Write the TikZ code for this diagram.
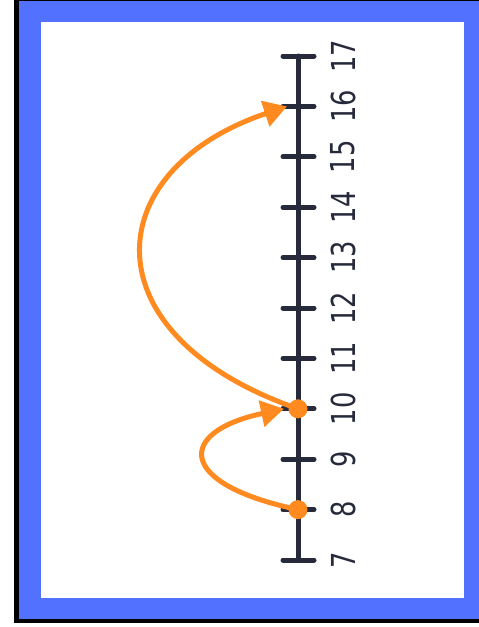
\documentclass[tikz,border=0pt]{standalone}
\usepackage{fontspec}
\setmainfont{DejaVu Sans}
\usetikzlibrary{arrows.meta}
\definecolor{frameblue}{HTML}{5271FF}
\definecolor{axisnavy}{HTML}{262A3B}
\definecolor{arcorange}{HTML}{FF8A1F}
\begin{document}
\begin{tikzpicture}[x=1pt,y=-1pt,
  axisline/.style={draw=axisnavy,line width=5pt,line cap=round},
  tickline/.style={draw=axisnavy,line width=5pt,line cap=round},
  numlabel/.style={text=axisnavy,font=\fontsize{33}{33}\selectfont,rotate=90,inner sep=0pt},
  orangearc/.style={draw=arcorange,line width=5pt,-{Triangle[length=23pt,width=26pt]}},
  dotnode/.style={circle,fill=arcorange,minimum size=19pt,inner sep=0pt}]
\useasboundingbox (0,0) rectangle (479,627);
\fill[white] (0,0) rectangle (479,627);
\fill[black] (14,0) rectangle (485,623);
\fill[frameblue] (19,1) rectangle (485,618.7);
\fill[white] (41,22) rectangle (464,598);
\foreach \n in {7,...,17} {
  \coordinate (t\n) at (298,{560-50.4*(\n-7)});
}
\draw[axisline] (t7) -- (t17);
\foreach \n in {7,...,17} {
  \draw[tickline] ([xshift=-15pt]t\n) -- ([xshift=16pt]t\n);
  \node[numlabel] (l\n) at ([xshift=45pt]t\n) {\scalebox{0.78}[1]{\n}};
}
\draw[orangearc] (t8) .. controls (176,484) and (176,432) .. ([xshift=-14pt]t10);
\draw[orangearc] (t10) .. controls (86,335) and (98,170) .. ([xshift=-11pt]t16);
\node[dotnode] (d8) at (t8) {};
\node[dotnode] (d10) at (t10) {};
\end{tikzpicture}
\end{document}
